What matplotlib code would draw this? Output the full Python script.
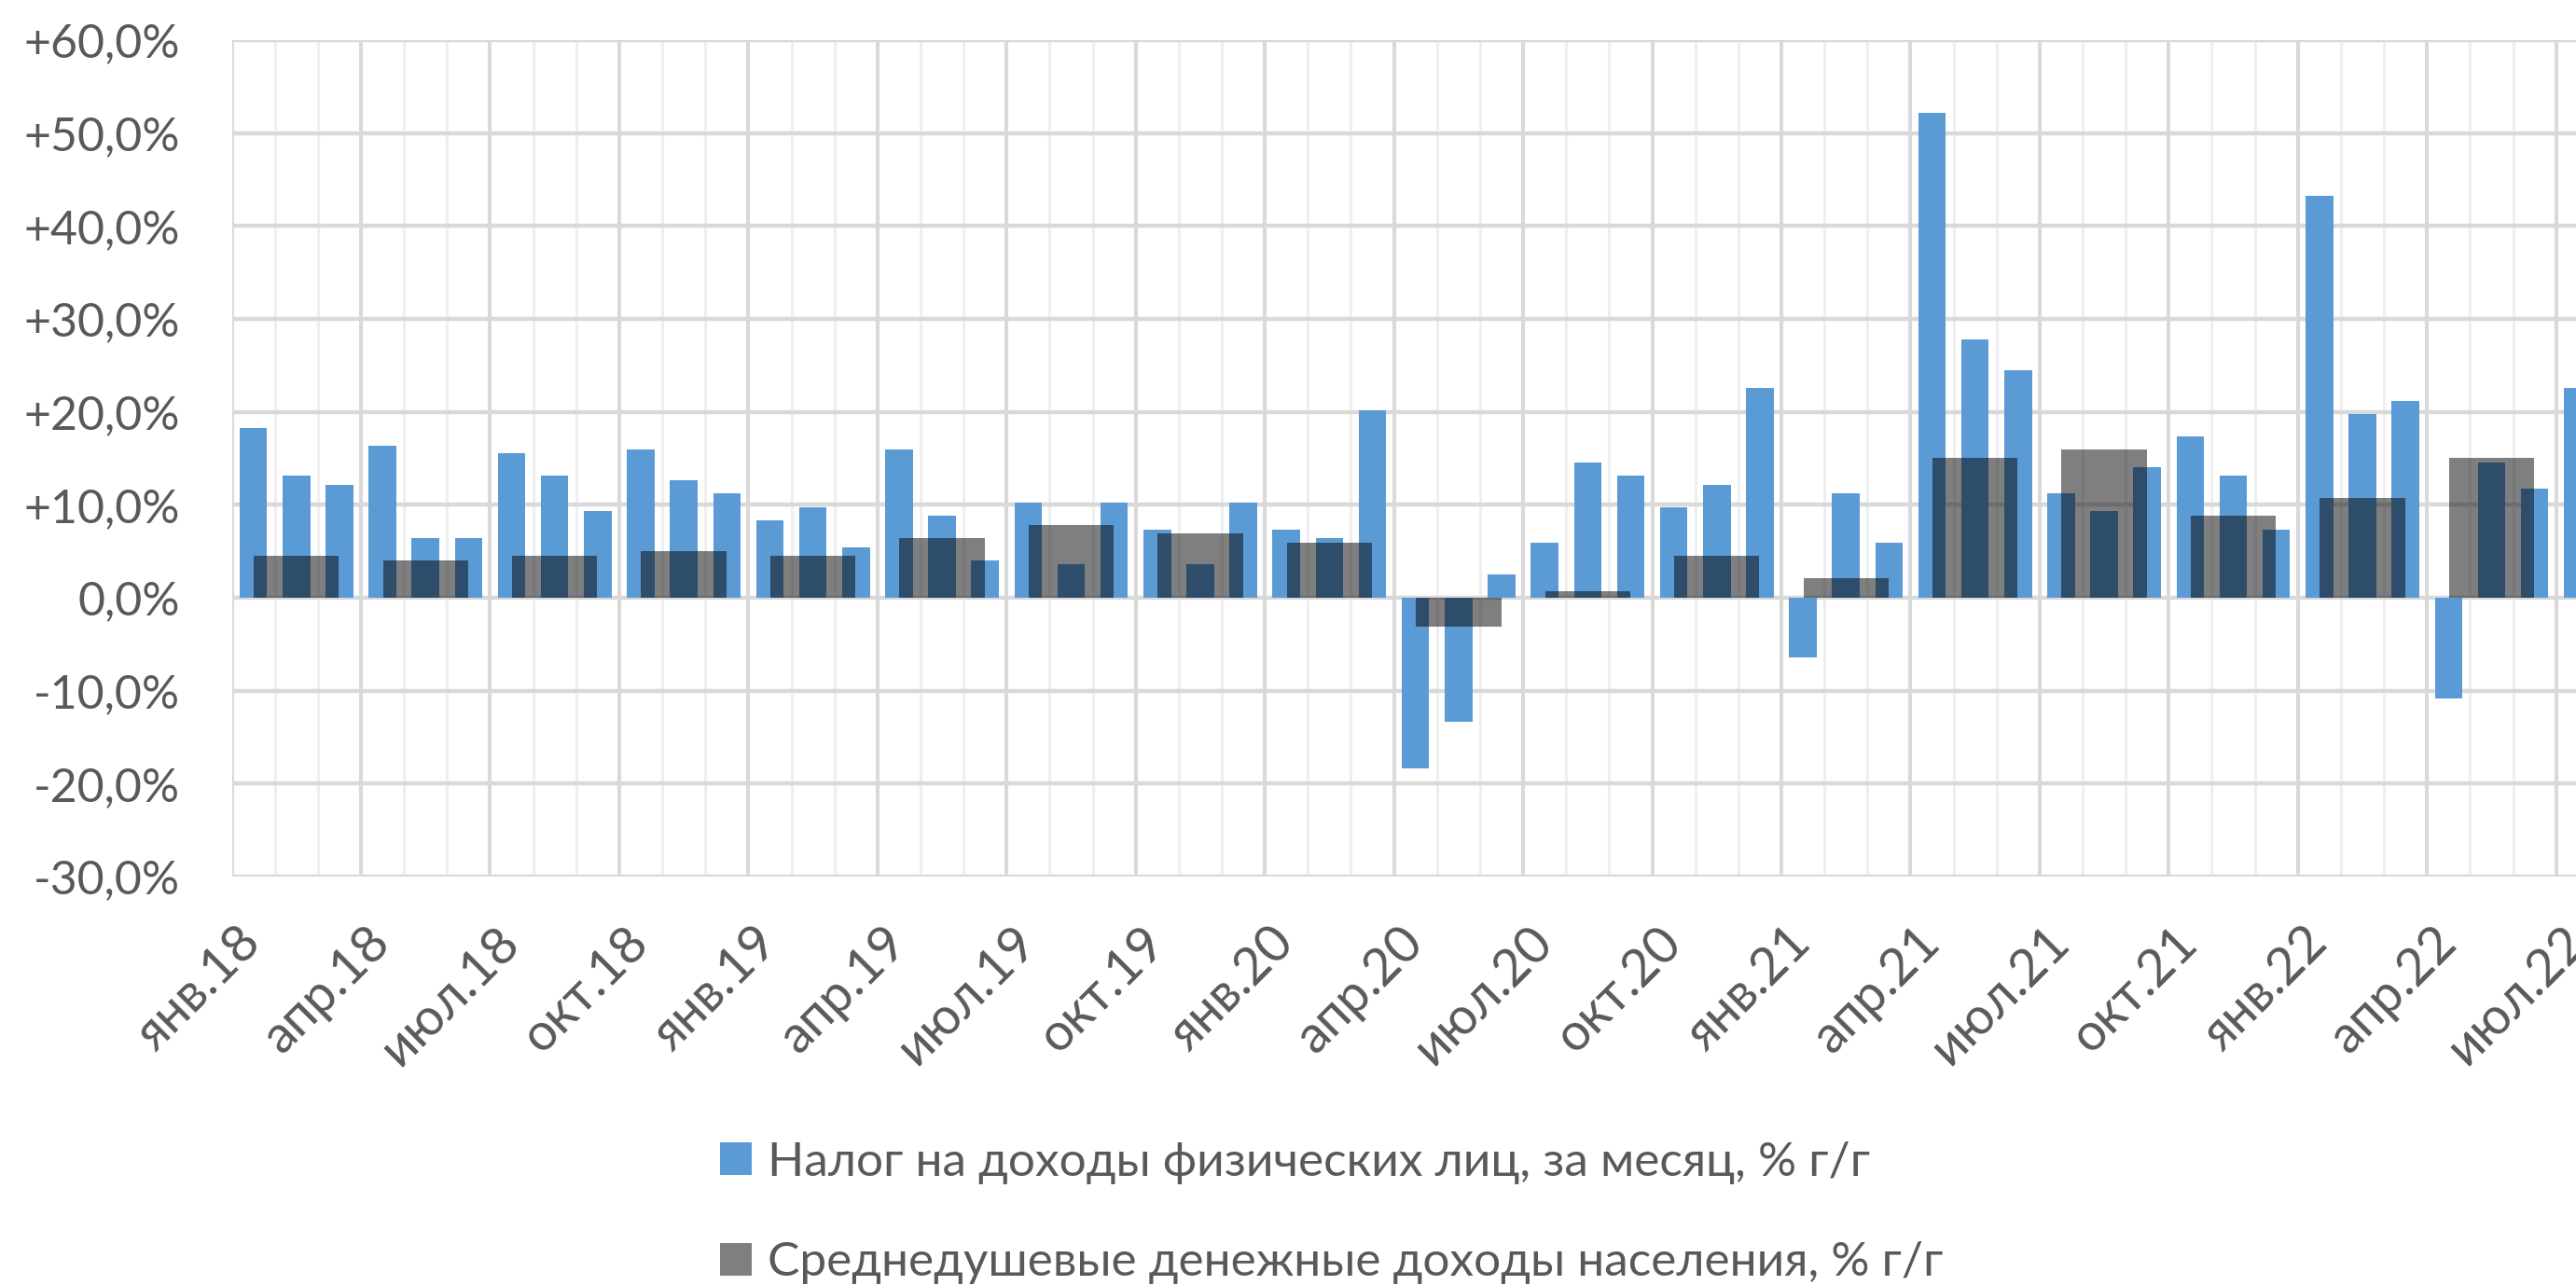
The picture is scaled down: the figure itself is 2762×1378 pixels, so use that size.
import numpy as np
import matplotlib.pyplot as plt
from matplotlib.ticker import FuncFormatter
from matplotlib.transforms import ScaledTranslation

plt.rcParams['font.family'] = ['Lato', 'DejaVu Sans']

# monthly NDFL growth, % y/y (Jan 2018 .. Jul 2022)
ndfl = [18.3, 13.1, 12.1, 16.4, 6.4, 6.4, 15.5, 13.1, 9.3, 15.9,
        12.6, 11.2, 8.3, 9.7, 5.4, 15.9, 8.8, 4.0, 10.2, 3.6,
        10.2, 7.3, 3.6, 10.2, 7.3, 6.4, 20.2, -18.4, -13.4, 2.5,
        5.9, 14.5, 13.1, 9.7, 12.1, 22.6, -6.4, 11.2, 5.9, 52.2,
        27.8, 24.5, 11.2, 9.3, 14.0, 17.4, 13.1, 7.3, 43.2, 19.8,
        21.2, -10.8, 14.5, 11.7, 22.6]

# quarterly per-capita money income, % y/y (Q1 2018 .. Q2 2022)
income = [4.5, 4.0, 4.5, 5.0, 4.5, 6.4, 7.8, 6.9, 5.9, -3.1,
          0.7, 4.5, 2.1, 15.0, 15.9, 8.8, 10.7, 15.0]

tick_labels = ['янв.18', 'апр.18', 'июл.18', 'окт.18',
               'янв.19', 'апр.19', 'июл.19', 'окт.19',
               'янв.20', 'апр.20', 'июл.20', 'окт.20',
               'янв.21', 'апр.21', 'июл.21', 'окт.21',
               'янв.22', 'апр.22', 'июл.22']

legend_labels = ['Налог на доходы физических лиц, за месяц, % г/г',
                 'Среднедушевые денежные доходы населения, % г/г']

n_months = 57  # axis runs to Sep 2022 (19 quarters)
txt = '#595959'

fig = plt.figure(figsize=(27.62, 13.78), dpi=100)
ax = fig.add_axes([0.0900, 0.3179, 0.9524, 0.6509])

xm = np.arange(len(ndfl))
xq = np.arange(len(income)) * 3 + 1

b1 = ax.bar(xm, ndfl, width=0.64, color='#5b9bd5', zorder=2, linewidth=0)
b2 = ax.bar(xq, income, width=1.98, color='black', alpha=0.5, zorder=3, linewidth=0)

# vertical grid: light every month, darker every quarter
for b in np.arange(-0.5, n_months, 1.0):
    k = int(round(b + 0.5))
    if k % 3 == 0:
        ax.axvline(b, color='#d9d9d9', lw=2.9, zorder=0.4)
    else:
        ax.axvline(b, color='#efefef', lw=2.2, zorder=0.3)

ax.set_xlim(-0.5, n_months - 0.5)
ax.set_ylim(-30, 60)
ax.set_yticks(np.arange(-30, 61, 10))
ax.yaxis.grid(True, color='#d9d9d9', lw=3.2)
ax.set_axisbelow(True)


def pct(v, pos):
    if abs(v) < 1e-9:
        return '0,0%'
    return f'{v:+.1f}%'.replace('.', ',')


ax.yaxis.set_major_formatter(FuncFormatter(pct))
ax.set_xticks(np.arange(0, n_months, 3))
ax.set_xticklabels(tick_labels, rotation=45, ha='right', va='top',
                   rotation_mode='anchor')
ax.tick_params(axis='x', length=0, pad=32, labelsize=40, colors=txt)
ax.tick_params(axis='y', length=0, pad=40, labelsize=36, colors=txt)
shift = ScaledTranslation(-18 / 100, 0, fig.dpi_scale_trans)
for lab in ax.get_xticklabels():
    lab.set_transform(lab.get_transform() + shift)
for s in ax.spines.values():
    s.set_visible(False)

leg = fig.legend([b1, b2], legend_labels, loc='upper left',
                 bbox_to_anchor=(0.2795, 0.112), frameon=False, fontsize=37,
                 handlelength=0.66, handleheight=0.66, handletextpad=0.33,
                 labelspacing=1.2, borderpad=0, borderaxespad=0)
for t in leg.get_texts():
    t.set_color(txt)

fig.savefig('out.png', dpi=100)
